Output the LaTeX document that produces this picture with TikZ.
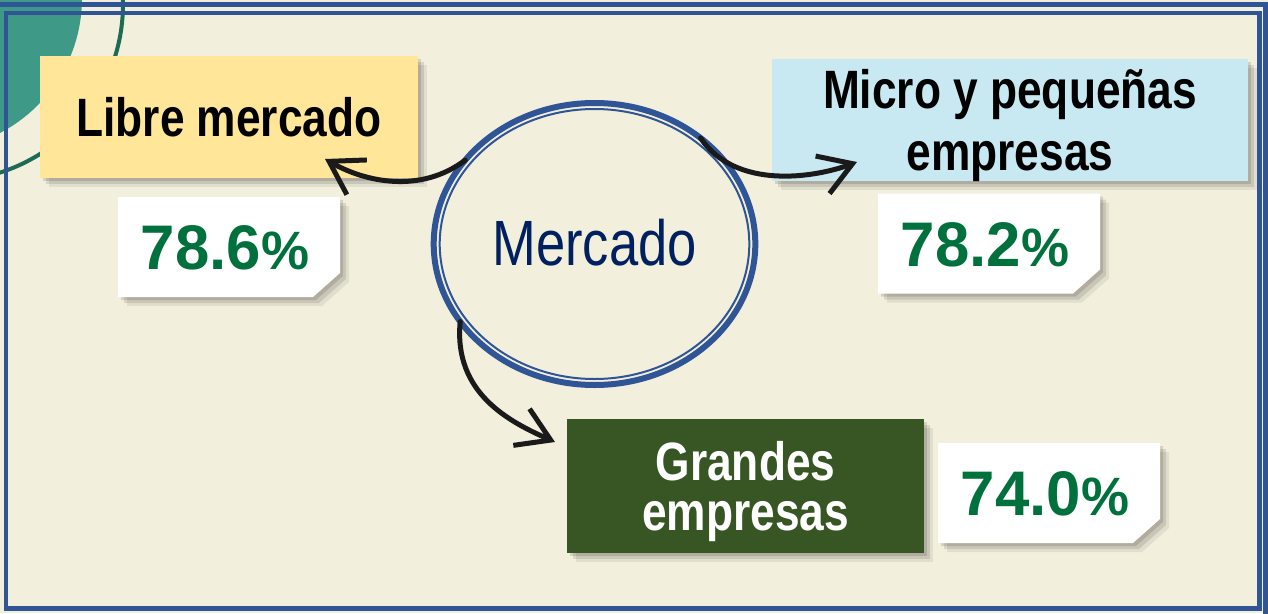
\documentclass[tikz,border=0pt]{standalone}
\usepackage{fontspec}
\setmainfont{Liberation Sans}
\newfontfamily\narrowfont[FakeStretch=0.82]{Liberation Sans}
\newfontfamily\numfont[FakeStretch=0.98]{Liberation Sans}
\newfontfamily\pctfont{Liberation Sans}
\usetikzlibrary{shapes.geometric,arrows.meta,shadows,calc}
\definecolor{bgcream}{HTML}{F2EFDC}
\definecolor{frameblue}{HTML}{2F5597}
\definecolor{tealfill}{HTML}{3E9A86}
\definecolor{tealline}{HTML}{1D6B54}
\definecolor{librefill}{HTML}{FFE699}
\definecolor{microfill}{HTML}{C8E9F1}
\definecolor{grandfill}{HTML}{375623}
\definecolor{pctgreen}{HTML}{00703C}
\definecolor{navy}{HTML}{002060}
\definecolor{arrowblack}{HTML}{1A1A1A}
\begin{document}
\begin{tikzpicture}
  [x=1pt,y=-1pt,
   softshadow/.style={drop shadow={shadow xshift=3pt,shadow yshift=-3pt,opacity=.12,fill=black},
                      drop shadow={shadow xshift=6pt,shadow yshift=-6pt,opacity=.10,fill=black},
                      drop shadow={shadow xshift=9pt,shadow yshift=-9pt,opacity=.07,fill=black}},
   lblbox/.style={rectangle,inner sep=0pt,outer sep=0pt,align=center,softshadow,
                  font=\narrowfont\bfseries\fontsize{54}{62}\selectfont},
   pcttext/.style={inner sep=0pt,text=pctgreen,font=\numfont\bfseries\fontsize{63}{63}\selectfont},
   arr/.style={draw=arrowblack,line width=5pt,line cap=round,line join=round,
               -{Straight Barb[length=32pt,width=40pt]}}]
  \useasboundingbox (0,0) rectangle (1268,613);
  \clip (0,0) rectangle (1268,613);
  \fill[bgcream] (0,0) rectangle (1268,613);

  % corner ornament
  \fill[tealfill] (-70,-2) circle (152);
  \draw[tealline,line width=4pt] (-54,4) circle (177);

  % frames
  \draw[frameblue,line width=4.5pt] (-10,4.7) rectangle (1265.7,630);
  \draw[frameblue,line width=4.5pt] (6,13) rectangle (1259.3,608.7);

  % labels
  \node[lblbox,fill=librefill,minimum width=378pt,minimum height=122pt] (libre) at (229,117) {Libre mercado};
  \node[lblbox,fill=microfill,minimum width=476pt,minimum height=122pt,text depth=0pt] (micro) at (1010,120)
        {Micro y pequeñas\\empresas};
  \node[lblbox,fill=grandfill,text=white,minimum width=357pt,minimum height=134pt,text depth=0pt,
        font=\narrowfont\bfseries\fontsize{54}{50}\selectfont] (grandes) at (745.5,486) {Grandes\\empresas};

  % percentages
  \foreach \nm/\cx/\cy/\val in {pa/229/247/78.6,pb/989/243.5/78.2,pc/1049/493/74.0}{
    \fill[white,softshadow] (\cx-111,\cy-50) -- (\cx+111,\cy-50) -- (\cx+111,\cy+26)
      -- (\cx+84,\cy+50) -- (\cx-111,\cy+50) -- cycle;
    \node[pcttext] (\nm) at (\cx-4,\cy+1) {\val{\pctfont\fontsize{54}{54}\selectfont\%}};
  }

  % market ring
  \node[ellipse,draw=frameblue,line width=6pt,minimum width=321.6pt,minimum height=282pt,
        inner sep=0pt,outer sep=0pt,text=navy,font=\narrowfont\fontsize{64}{64}\selectfont] (mkt) at (594.5,244) {\raisebox{3pt}{Mercado}};
  \draw[frameblue,line width=2pt] (mkt.center) ellipse [x radius=154.8pt,y radius=135pt];

  % connectors
  \draw[arr] (mkt.147) .. controls +(-45,34) and +(40,23) .. ($(libre.south)+(96,-19)$);
  \draw[arr] (mkt.45) .. controls +(35,52) and +(-43,16) .. ($(micro.south west)+(85,-19)$);
  \draw[arr] (mkt.210) .. controls +(-7,72) and +(-45,-20) .. ($(grandes.north west)+(-12,23)$);

\end{tikzpicture}
\end{document}
